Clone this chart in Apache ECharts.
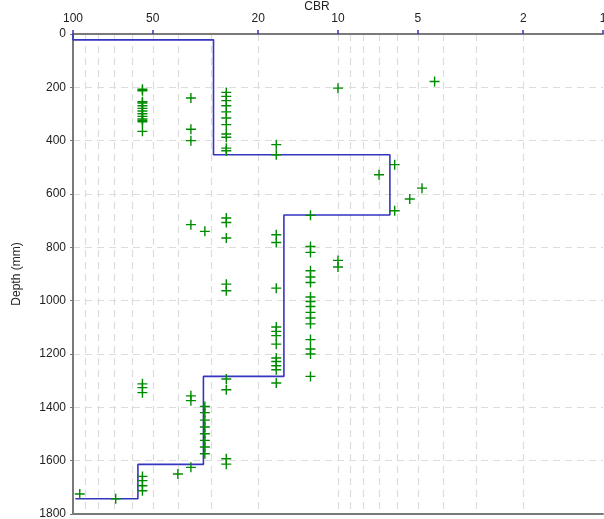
<!DOCTYPE html>
<html>
<head>
<meta charset="utf-8">
<script src="https://cdn.jsdelivr.net/npm/echarts@6/dist/echarts.min.js"></script>
<style>
  html, body { margin: 0; padding: 0; background: #fff; }
  #chart { width: 604px; height: 519px; }
</style>
</head>
<body>
<div id="chart"></div>
<script>
// Layer CBR profile (step line)
const stepCbr = [100, 100, 29.5, 29.5, 6.37, 6.37, 16.0, 16.0, 32.2, 32.2, 56.9, 56.9, 98];
const stepDepth = [0, 22, 22, 453, 453, 679, 679, 1284, 1284, 1614, 1614, 1743, 1743];

// Test points, grouped by CBR column
const columnCbr = [54.7, 35.9, 26.4, 17.1, 12.7, 10.0, 31.8];
const columnDepths = [
  [207, 213, 254, 259, 269, 279, 289, 299, 309, 319, 324, 329, 365, 1312, 1326, 1345, 1659, 1675, 1694, 1713],
  [240, 357, 400, 715, 1357, 1375, 1625],
  [219, 234, 250, 269, 292, 315, 340, 375, 387, 428, 438, 690, 707, 765, 938, 963, 1294, 1334, 1593, 1613],
  [415, 453, 753, 782, 953, 1099, 1115, 1131, 1163, 1215, 1228, 1244, 1259, 1309],
  [680, 797, 819, 888, 911, 932, 986, 1003, 1022, 1044, 1065, 1087, 1146, 1181, 1200, 1284],
  [203, 849, 874],
  [740, 1397, 1420, 1448, 1474, 1499, 1524, 1549, 1574],
];
const singleCbr = [4.32, 6.11, 7.0, 4.82, 5.36, 6.11, 40.2, 94.3, 69];
const singleDepth = [178, 490, 528, 578, 619, 663, 1650, 1725, 1743];

// Axis ticks
const majorTicks = [100, 50, 20, 10, 5, 2, 1];
const minorTicks = [2, 3, 4, 5, 6, 7, 8, 9, 10, 20, 30, 40, 50, 60, 70, 80, 90];

const lg = (v) => Math.log10(v);

const stepData = stepCbr.map((c, i) => [lg(c), stepDepth[i]]);
const pointData = [];
columnCbr.forEach((c, i) => {
  columnDepths[i].forEach((d) => pointData.push([lg(c), d]));
});
singleCbr.forEach((c, i) => pointData.push([lg(c), singleDepth[i]]));

const font = 'Liberation Sans, Arial, sans-serif';
const gridColor = '#dcdcdc';
const axisColor = '#7a7a7a';

const chart = echarts.init(document.getElementById('chart'));
chart.setOption({
  animation: false,
  textStyle: { fontFamily: font },
  grid: { left: 73, right: 1, top: 34, bottom: 5, containLabel: false, outerBoundsMode: 'none' },
  xAxis: [
    {
      type: 'value',
      position: 'top',
      min: 0,
      max: 2,
      inverse: true,
      name: 'CBR',
      nameLocation: 'middle',
      nameGap: 21,
      nameMoveOverlap: false,
      nameTextStyle: { color: '#222', fontSize: 12, fontFamily: font, padding: [0, 42, 0, 0] },
      axisLine: { onZero: false, lineStyle: { color: axisColor, width: 2 } },
      axisTick: {
        customValues: majorTicks.map(lg),
        length: 4,
        lineStyle: { color: '#3333cc', width: 1.5 },
      },
      axisLabel: {
        customValues: majorTicks.map(lg),
        formatter: (v) => String(Math.round(Math.pow(10, v))),
        showMinLabel: true,
        showMaxLabel: true,
        hideOverlap: false,
        color: '#222',
        fontSize: 12,
        margin: 9,
        fontFamily: font,
      },
      splitLine: { show: false },
    },
    {
      type: 'value',
      position: 'bottom',
      min: 0,
      max: 2,
      inverse: true,
      axisLine: { onZero: false, lineStyle: { color: axisColor, width: 2 } },
      axisTick: { show: false, customValues: minorTicks.map(lg) },
      axisLabel: { show: false },
      splitLine: {
        show: true,
        lineStyle: { color: gridColor, width: 1.2, type: [7, 5] },
      },
    },
  ],
  yAxis: {
    type: 'value',
    min: 0,
    max: 1800,
    interval: 200,
    inverse: true,
    name: 'Depth (mm)',
    nameLocation: 'middle',
    nameGap: 50,
    nameTextStyle: { color: '#222', fontSize: 12, fontFamily: font },
    axisLine: { onZero: false, lineStyle: { color: axisColor, width: 2 } },
    axisTick: { length: 3, lineStyle: { color: axisColor } },
    axisLabel: {
      color: '#222',
      fontSize: 12,
      margin: 7,
      fontFamily: font,
      formatter: (v) => String(v),
    },
    splitLine: {
      show: true,
      lineStyle: { color: gridColor, width: 1.2, type: [7, 5] },
    },
  },
  series: [
    {
      type: 'line',
      xAxisIndex: 0,
      data: stepData,
      showSymbol: false,
      symbol: 'none',
      lineStyle: { color: '#3535c0', width: 1.6 },
      z: 3,
    },
    {
      type: 'scatter',
      xAxisIndex: 0,
      data: pointData,
      symbol: 'path://M0,4.3H10V5.7H0Z M4.3,0H5.7V10H4.3Z',
      symbolSize: 10,
      itemStyle: { color: '#008a00', opacity: 1 },
      z: 4,
    },
  ],
});
</script>
</body>
</html>
